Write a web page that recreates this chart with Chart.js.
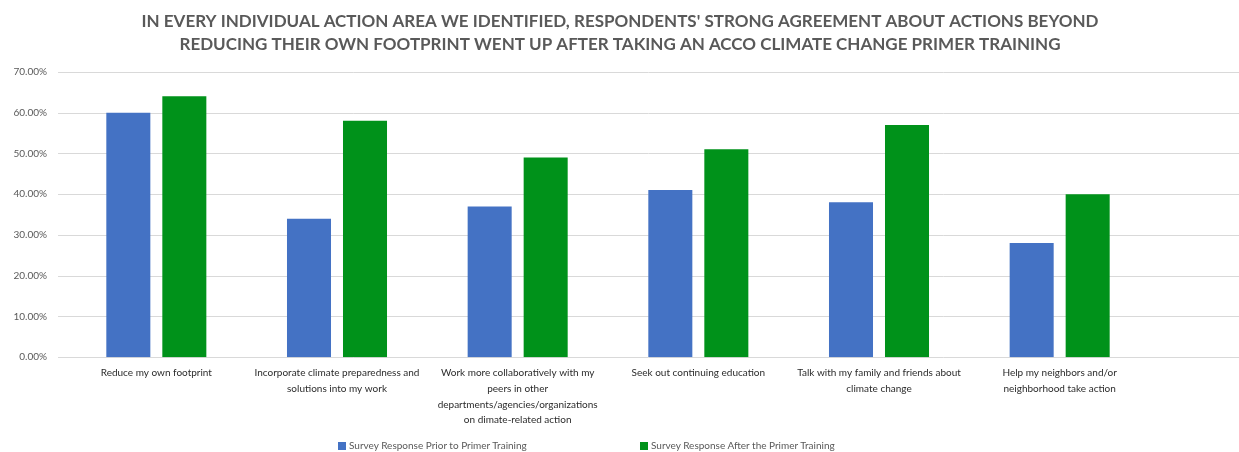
<!DOCTYPE html>
<html>
<head>
<meta charset="utf-8">
<script src="https://cdn.jsdelivr.net/npm/chart.js@4.4.1/dist/chart.umd.min.js"></script>
<style>
  html, body { margin: 0; padding: 0; background: #fff; }
  #wrap { width: 1239px; height: 452px; position: relative; }
  #legend { position: absolute; left: 0; top: 438px; width: 1239px; height: 14px;
            font-family: Lato, 'Open Sans', sans-serif; font-size: 10px; color: #595959; }
  .lg-item { position: absolute; top: 0; white-space: nowrap; line-height: 14px; }
  .lg-box { display: inline-block; width: 8px; height: 8px; margin-right: 3px; vertical-align: -0.5px; }
</style>
</head>
<body>
<div id="wrap"><canvas id="chart"></canvas><div id="legend"></div></div>
<script>
// --- data ---
const titleLines = [
    "IN EVERY INDIVIDUAL ACTION AREA WE IDENTIFIED, RESPONDENTS' STRONG AGREEMENT ABOUT ACTIONS BEYOND",
    "REDUCING THEIR OWN FOOTPRINT WENT UP AFTER TAKING AN ACCO CLIMATE CHANGE PRIMER TRAINING"
];
const categories = [
    ["Reduce my own footprint"],
    ["Incorporate climate preparedness and", "solutions into my work"],
    ["Work more collaboratively with my", "peers in other", "departments/agencies/organizations", "on dimate-related action"],
    ["Seek out continuing education"],
    ["Talk with my family and friends about", "climate change"],
    ["Help my neighbors and/or", "neighborhood take action"]
];
const seriesNames = ["Survey Response Prior to Primer Training", "Survey Response After the Primer Training"];
const priorValues = [60, 34, 37, 41, 38, 28];
const afterValues = [64, 58, 49, 51, 57, 40];
const yTicks = [0, 10, 20, 30, 40, 50, 60, 70];

const GREY = '#595959';
const FONT = "Lato, 'Open Sans', sans-serif";
const COLORS = ['#4472c4', '#00921a'];

// full-width gridlines (the original image is cropped, lines run to the edge)
const wideGrid = {
    id: 'wideGrid',
    afterLayout(chart) {
        // the plot is narrower than the picture: recentre the title like the original
        if (chart.titleBlock) { chart.titleBlock.left += 45; chart.titleBlock.right += 45; }
    },
    beforeDatasetsDraw(chart) {
        const ctx = chart.ctx;
        const y = chart.scales.y;
        ctx.save();
        ctx.strokeStyle = '#d9d9d9';
        ctx.lineWidth = 1;
        yTicks.forEach(t => {
            const py = Math.round(y.getPixelForValue(t)) + 0.5;
            ctx.beginPath();
            ctx.moveTo(58, py);
            ctx.lineTo(chart.width, py);
            ctx.stroke();
        });
        ctx.restore();
    }
};

new Chart(document.getElementById('chart'), {
    type: 'bar',
    data: {
        labels: categories,
        datasets: [
            { label: seriesNames[0], data: priorValues, backgroundColor: COLORS[0], categoryPercentage: 0.62, barPercentage: 0.786 },
            { label: seriesNames[1], data: afterValues, backgroundColor: COLORS[1], categoryPercentage: 0.62, barPercentage: 0.786 }
        ]
    },
    options: {
        responsive: true,
        maintainAspectRatio: false,
        animation: false,
        layout: { padding: { left: 0, right: 89, top: 0, bottom: 16 } },
        plugins: {
            title: {
                display: true,
                text: titleLines,
                color: GREY,
                font: { family: FONT, size: 17, weight: 'bold', lineHeight: 1.35 },
                padding: { top: 10, bottom: 16 }
            },
            legend: { display: false },
            tooltip: { enabled: false }
        },
        scales: {
            x: {
                grid: { display: false, drawTicks: false },
                border: { display: false },
                ticks: {
                    color: '#2b2b2b',
                    font: { family: FONT, size: 10, lineHeight: 1.57 },
                    maxRotation: 0,
                    autoSkip: false,
                    padding: 8
                }
            },
            y: {
                min: 0,
                max: 70,
                afterFit(scale) { scale.width = 66; },
                afterBuildTicks(scale) { scale.ticks = yTicks.map(v => ({ value: v })); },
                grid: { display: false, drawTicks: false },
                border: { display: false },
                ticks: {
                    color: GREY,
                    font: { family: FONT, size: 10 },
                    padding: 19,
                    callback: v => v.toFixed(2) + '%'
                }
            }
        }
    },
    plugins: [wideGrid]
});

// legend as html text, spread out like the original
const legendLeft = [338, 640];
const lg = document.getElementById('legend');
seriesNames.forEach((name, i) => {
    const item = document.createElement('span');
    item.className = 'lg-item';
    item.style.left = legendLeft[i] + 'px';
    item.innerHTML = `<span class="lg-box" style="background:${COLORS[i]}"></span>${name}`;
    lg.appendChild(item);
});
</script>
</body>
</html>
